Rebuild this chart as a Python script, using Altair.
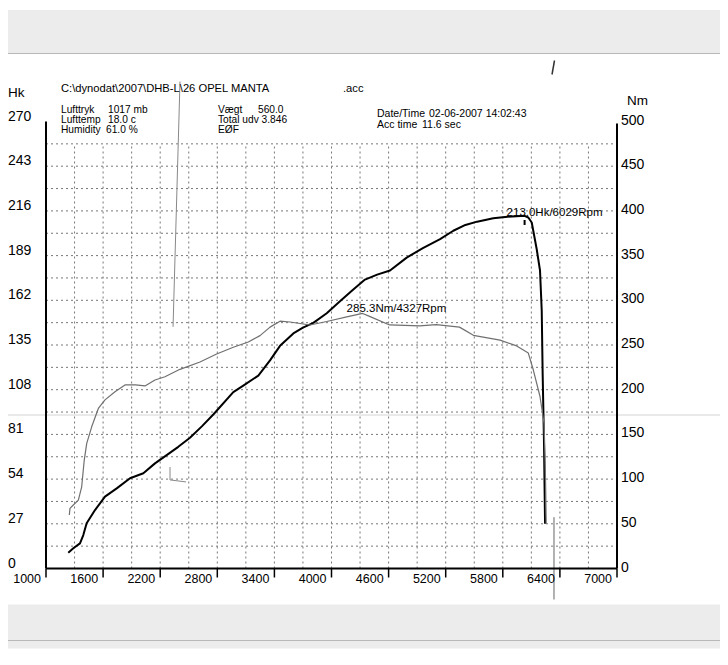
import altair as alt
import pandas as pd

# ---------------- data ----------------
RPM_TICKS = [1000, 1600, 2200, 2800, 3400, 4000, 4600, 5200, 5800, 6400, 7000]
HK_TICKS = [0, 27, 54, 81, 108, 135, 162, 189, 216, 243, 270]
NM_TICKS = [0, 50, 100, 150, 200, 250, 300, 350, 400, 450, 500]
GRID_RPM = [1300, 1600, 1900, 2200, 2500, 2800, 3100, 3400, 3700, 4000,
            4300, 4600, 4900, 5200, 5500, 5800, 6100, 6400, 6700]
GRID_HK = [13.5, 27, 40.5, 54, 67.5, 81, 94.5, 108, 121.5, 135, 148.5,
           162, 175.5, 189, 202.5, 216, 229.5, 243, 256.5]

POWER_RPM = [1234, 1287, 1357, 1392, 1427, 1515, 1620, 1743, 1883, 2023, 2145,
             2268, 2390, 2513, 2640, 2758, 2968, 3073, 3231, 3354, 3459, 3599,
             3700, 3809, 3950, 4089, 4220, 4352, 4480, 4615, 4790, 4960, 5141,
             5280, 5407, 5530, 5700, 5850, 6029, 6068, 6104, 6156, 6191, 6209,
             6219, 6233, 6244]
POWER_HK = [9.5, 12.2, 15.2, 20.2, 27.3, 35.3, 43.4, 48.4, 54.5, 57.5, 63.5,
            68.5, 73.5, 79.0, 86.0, 93.0, 106.5, 110.5, 116.5, 125.7, 134.5, 142.0,
            145.5, 148.4, 154.2, 161.4, 168.0, 174.5, 177.5, 180.0, 187.8, 193.5, 199.0,
            204.0, 207.5, 209.5, 211.5, 212.5, 213.0, 212.0, 209.0, 193.0, 180.0, 156.0,
            117.0, 76.0, 27.0]

TORQUE_RPM = [1245, 1252, 1287, 1340, 1375, 1402, 1428, 1480, 1550, 1620, 1725,
              1830, 1940, 2040, 2145, 2250, 2408, 2618, 2793, 2968, 3126, 3249,
              3354, 3459, 3564, 3774, 3950, 4160, 4327, 4400, 4611, 4926, 5101,
              5345, 5491, 5771, 5946, 6068, 6121, 6191, 6233, 6244, 6251, 6256]
TORQUE_NM = [59.8, 67.3, 71.0, 76.5, 91.4, 121.3, 140.0, 158.5, 179.0, 188.6, 197.8,
             205.3, 205.5, 204.2, 210.9, 214.5, 222.8, 231.0, 240.0, 247.5, 253.4, 260.5,
             270.0, 276.6, 275.7, 272.4, 276.3, 281.5, 285.3, 282.0, 272.4, 271.5, 272.8,
             270.0, 260.8, 255.4, 249.0, 241.0, 222.0, 192.4, 162.5, 125.0, 88.0, 50.0]

PEAK_POWER_RPM, PEAK_POWER_HK = 6029, 213.0
PEAK_TORQUE_RPM, PEAK_TORQUE_NM = 4327, 285.3

# pen / scan marks on the sheet (rpm, Hk)
MARK_RPM = [2303, 2303, 2471]
MARK_HK = [61.3, 53.5, 52.3]

HEADER_PATH = r"C:\dynodat\2007\DHB-L\26 OPEL MANTA"
HEADER_EXT = ".acc"
AMB_LABELS = ["Lufttryk", "Lufttemp", "Humidity"]
AMB_VALUES = ["1017 mb", "18.0 c", "61.0 %"]
RUN_LABELS = ["Vægt", "Total udv 3.846", "EØF"]
RUN_VALUES = ["560.0", "", ""]
TIME_LABELS = ["Date/Time", "Acc time"]
TIME_VALUES = ["02-06-2007 14:02:43", "11.6 sec"]

# ---------------- layout ----------------
W, H = 571, 447
PL, PT, PR, PB = 38, 113.5, 103, 80
FONT = "Liberation Sans, Arial, sans-serif"

xs = alt.Scale(domain=[1000, 7000], nice=False, zero=False)
hs = alt.Scale(domain=[0, 270], nice=False, zero=True)
ns = alt.Scale(domain=[0, 500], nice=False, zero=True)

X = lambda f: alt.X(f, scale=xs, axis=None)
YH = lambda f: alt.Y(f, scale=hs, axis=None)
YN = lambda f: alt.Y(f, scale=ns, axis=None)

one = pd.DataFrame({"k": [0]})

# paper / scanner bands
top_band = alt.Chart(one).mark_rect(color="#ececec").encode(
    x=alt.value(-PL), x2=alt.value(W + PR), y=alt.value(-PT + 2), y2=alt.value(-68))
top_line = alt.Chart(one).mark_rule(color="#b8b8b8", strokeWidth=1).encode(
    x=alt.value(-PL), x2=alt.value(W + PR), y=alt.value(-68))
bot_band = alt.Chart(one).mark_rect(color="#ececec").encode(
    x=alt.value(-PL), x2=alt.value(W + PR), y=alt.value(H + 36), y2=alt.value(H + PB))
bot_line = alt.Chart(one).mark_rule(color="#b8b8b8", strokeWidth=1).encode(
    x=alt.value(-PL), x2=alt.value(W + PR), y=alt.value(H + 72))
mid_line = alt.Chart(one).mark_rule(color="#d4d4d4", strokeWidth=1).encode(
    x=alt.value(-PL), x2=alt.value(W + PR), y=alt.value(293.5))

power_df = pd.DataFrame({"rpm": POWER_RPM, "hk": POWER_HK, "i": list(range(len(POWER_RPM)))})
torque_df = pd.DataFrame({"rpm": TORQUE_RPM, "nm": TORQUE_NM, "i": list(range(len(TORQUE_RPM)))})

power = alt.Chart(power_df).mark_line(color="black", strokeWidth=2, strokeJoin="round").encode(
    x=X("rpm:Q"), y=YH("hk:Q"), order="i:Q",
)

hgrid = alt.Chart(pd.DataFrame({"hk": GRID_HK})).mark_rule(
    color="#777", strokeDash=[2, 3], strokeWidth=1
).encode(y=YH("hk:Q"), x=alt.value(0), x2=alt.value(W))

vgrid = alt.Chart(pd.DataFrame({"rpm": GRID_RPM})).mark_rule(
    color="#777", strokeDash=[2, 3], strokeWidth=1
).encode(x=X("rpm:Q"), y=alt.YDatum(0, scale=hs, axis=None), y2=alt.datum(GRID_HK[-1]))

# hand-drawn axes (domain lines, ticks, labels) through the scales
xtick_df = pd.DataFrame({"rpm": RPM_TICKS, "t": [str(v) for v in RPM_TICKS]})
x_ticks = alt.Chart(xtick_df).mark_rule(color="black", strokeWidth=1.5).encode(
    x=X("rpm:Q"), y=alt.value(H), y2=alt.value(H + 9))
x_labels = alt.Chart(xtick_df).mark_text(
    align="right", baseline="top", dx=-5, font=FONT, fontSize=12.5, color="black"
).encode(x=X("rpm:Q"), y=alt.value(H + 4), text="t:N")

hk_df = pd.DataFrame({"hk": HK_TICKS, "t": [str(v) for v in HK_TICKS]})
hk_labels = alt.Chart(hk_df).mark_text(
    align="left", baseline="middle", dy=-5, font=FONT, fontSize=14, color="black"
).encode(x=alt.value(-38), y=YH("hk:Q"), text="t:N")

nm_df = pd.DataFrame({"nm": NM_TICKS, "t": [str(v) for v in NM_TICKS]})
nm_labels = alt.Chart(nm_df).mark_text(
    align="left", baseline="middle", dy=-1, font=FONT, fontSize=14, color="black"
).encode(x=alt.value(W + 4), y=YN("nm:Q"), text="t:N")

left_line = alt.Chart(one).mark_rule(color="black", strokeWidth=2).encode(
    x=alt.value(0), y=alt.value(0), y2=alt.value(H))
right_line = alt.Chart(one).mark_rule(color="black", strokeWidth=2).encode(
    x=alt.value(W), y=alt.value(2), y2=alt.value(H))
bottom_line = alt.Chart(one).mark_rule(color="black", strokeWidth=2).encode(
    x=alt.value(0), x2=alt.value(W), y=alt.value(H))

peak_df = pd.DataFrame({"rpm": [PEAK_POWER_RPM], "hk": [PEAK_POWER_HK],
                        "t": [f"{PEAK_POWER_HK:.1f}Hk/{PEAK_POWER_RPM}Rpm"]})
power_label = alt.Chart(peak_df).mark_text(
    align="left", baseline="middle", dx=-18, dy=-3, font=FONT, fontSize=11.5, color="black"
).encode(x=X("rpm:Q"), y=YH("hk:Q"), text="t:N")

peak_tick = alt.Chart(peak_df).mark_rule(color="black", strokeWidth=2).encode(
    x=X("rpm:Q"), y=alt.YDatum(207.5, scale=hs, axis=None), y2=alt.datum(210.5),
)

# scan artefact lines
artefact_df = pd.DataFrame({"rpm": [2335], "rpm2": [2408]})
artefact = alt.Chart(artefact_df).mark_rule(color="#888", strokeWidth=1).encode(
    x=X("rpm:Q"), x2="rpm2:Q",
    y=alt.YDatum(146, scale=hs, axis=None), y2=alt.value(-40),
)
marker_df = pd.DataFrame({"rpm": [6338]})
marker = alt.Chart(marker_df).mark_rule(color="#666", strokeWidth=1).encode(
    x=X("rpm:Q"), y=alt.YDatum(31, scale=hs, axis=None), y2=alt.value(H + 31),
)
pen_df = pd.DataFrame({"rpm": MARK_RPM, "hk": MARK_HK, "i": [0, 1, 2]})
pen = alt.Chart(pen_df).mark_line(color="#888", strokeWidth=1).encode(
    x=X("rpm:Q"), y=YH("hk:Q"), order="i:Q")
slash = alt.Chart(one).mark_rule(color="#333", strokeWidth=1.5).encode(
    x=alt.value(506), x2=alt.value(508.5), y=alt.value(-47), y2=alt.value(-61))


def txt(s, x, y, size=11, weight="normal"):
    return alt.Chart(pd.DataFrame({"t": [s]})).mark_text(
        align="left", baseline="middle", font=FONT, fontSize=size,
        color="black", fontWeight=weight
    ).encode(x=alt.value(x), y=alt.value(y), text="t:N")


texts = [
    txt("Hk", -38, -28.5, size=13.5),
    txt("Nm", 581, -20.5, size=13.5),
    txt(HEADER_PATH, 15, -32.5, size=11.2),
    txt(HEADER_EXT, 297, -32.5, size=11.2),
]
for k, (lab, val) in enumerate(zip(AMB_LABELS, AMB_VALUES)):
    texts.append(txt(lab, 15, -11.8 + 10.3 * k, size=10.2))
    texts.append(txt(val, 62 if k < 2 else 60, -11.8 + 10.3 * k, size=10.2))
for k, (lab, val) in enumerate(zip(RUN_LABELS, RUN_VALUES)):
    texts.append(txt(lab, 172, -11.8 + 10.3 * k, size=10.2))
    if val:
        texts.append(txt(val, 212, -11.8 + 10.3 * k, size=10.2))
for k, (lab, val) in enumerate(zip(TIME_LABELS, TIME_VALUES)):
    texts.append(txt(lab, 331, -7.5 + 11 * k, size=10.5))
    texts.append(txt(val, 383 if k == 0 else 376, -7.5 + 11 * k, size=10.5))

hk_layer = alt.layer(top_band, top_line, bot_band, bot_line, mid_line,
                     hgrid, vgrid, artefact, marker, pen, slash, power, peak_tick, power_label,
                     hk_labels, x_ticks, x_labels, left_line, right_line, bottom_line, *texts)

torque = alt.Chart(torque_df).mark_line(color="#707070", strokeWidth=1.2, strokeJoin="round").encode(
    x=X("rpm:Q"), y=YN("nm:Q"), order="i:Q",
)
tpeak_df = pd.DataFrame({"rpm": [PEAK_TORQUE_RPM], "nm": [PEAK_TORQUE_NM],
                         "t": [f"{PEAK_TORQUE_NM:.1f}Nm/{PEAK_TORQUE_RPM}Rpm"]})
torque_label = alt.Chart(tpeak_df).mark_text(
    align="left", baseline="middle", dx=-16, dy=-4, font=FONT, fontSize=11.5, color="black"
).encode(x=X("rpm:Q"), y=YN("nm:Q"), text="t:N")

nm_layer = alt.layer(torque, torque_label, nm_labels)

chart = alt.layer(hk_layer, nm_layer).resolve_scale(y="independent").properties(
    width=W, height=H,
    padding={"left": PL, "top": PT, "right": PR, "bottom": PB},
    autosize=alt.AutoSizeParams(type="none"),
    background="white",
).configure_view(stroke=None)

chart.save("out.html", embed_options={"renderer": "svg", "actions": False})
